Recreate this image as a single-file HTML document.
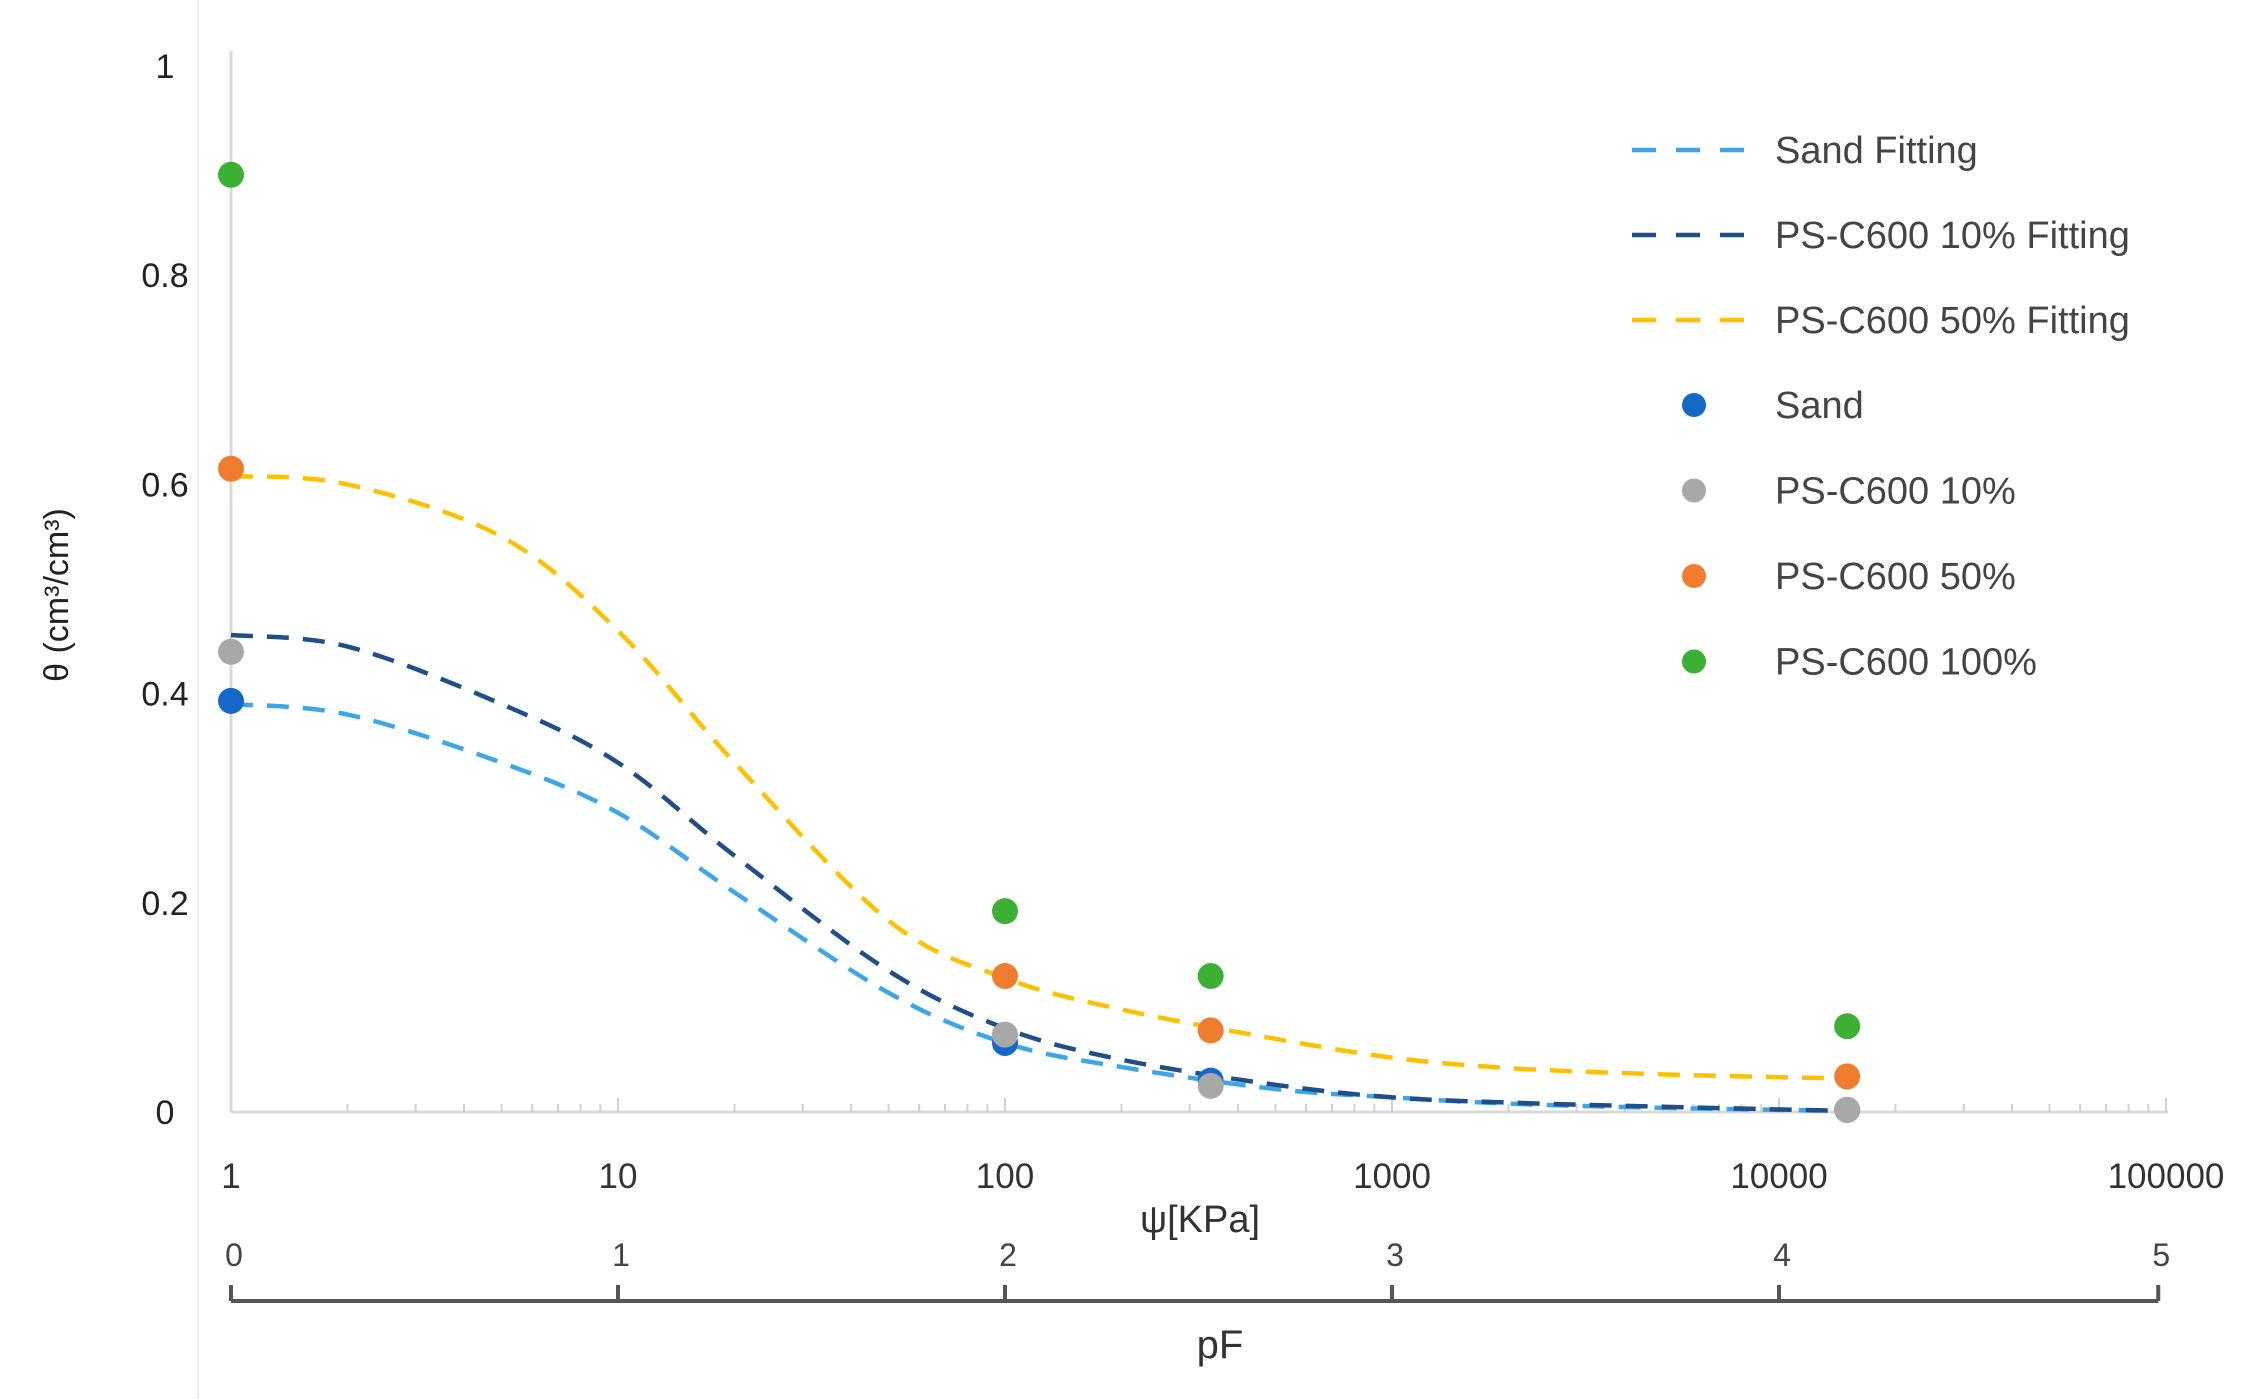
<!DOCTYPE html>
<html><head><meta charset="utf-8"><style>
html,body{margin:0;padding:0;background:#fff;}
svg{display:block;font-family:"Liberation Sans",sans-serif;}
</style></head><body>
<svg id="chart" width="2255" height="1399" viewBox="0 0 2255 1399" xmlns="http://www.w3.org/2000/svg">
<line x1="198" y1="0" x2="198" y2="1399" stroke="#f0f0f0" stroke-width="2"/>
<g id="axes"></g><g id="curves"></g><g id="points"></g>
<g id="legend"></g>
</svg>
<script>
const xTicks=[1,10,100,1000,10000,100000];
const xTickLabels=["1","10","100","1000","10000","100000"];
const yTicks=[0,0.2,0.4,0.6,0.8,1];
const yTickLabels=["0","0.2","0.4","0.6","0.8","1"];
const pfTicks=[0,1,2,3,4,5];
const pressures=[1,100,340,15000];
const sandVals=[0.393,0.066,0.03,0.002];
const ps10Vals=[0.44,0.074,0.025,0.002];
const ps50Vals=[0.615,0.13,0.078,0.034];
const ps100Vals=[0.896,0.192,0.13,0.082];
const fitX=[1,2,5,10,20,50,100,200,500,1000,2000,5000,15000];
const sandFit=[0.39,0.38,0.334,0.286,0.21,0.114,0.066,0.043,0.022,0.014,0.008,0.004,0.001];
const ps10Fit=[0.456,0.445,0.39,0.334,0.245,0.135,0.08,0.05,0.026,0.014,0.009,0.005,0.001];
const ps50Fit=[0.608,0.6,0.55,0.46,0.334,0.183,0.128,0.098,0.07,0.052,0.042,0.036,0.032];

const NS="http://www.w3.org/2000/svg";
const X0=231,DEC=387,Y0=1112,YH=1046;
const sx=v=>X0+Math.log10(v)*DEC;
const sy=v=>Y0-v*YH;
const spf=v=>X0+v*DEC;
function mk(tag,attrs,parent,text){const e=document.createElementNS(NS,tag);for(const k in attrs)e.setAttribute(k,attrs[k]);if(text!==undefined)e.textContent=text;parent.appendChild(e);return e;}
const axes=document.getElementById('axes');
let e;
e=mk('line',{x1:X0,y1:sy(1)-15,x2:X0,y2:Y0,stroke:'#d9d9d9','stroke-width':3},axes);


e=mk('line',{x1:X0,y1:Y0,x2:sx(100000)+2,y2:Y0,stroke:'#d9d9d9','stroke-width':3},axes);


for(let d=0;d<5;d++){for(let m=2;m<=10;m++){const v=Math.pow(10,d)*m;e=mk('line',{x1:sx(v),y1:Y0,x2:sx(v),y2:Y0-(m==10?14:8),stroke:'#d0d0d0','stroke-width':2},axes);

}}
yTicks.forEach((t,i)=>{e=mk('text',{x:165,y:sy(t)+12,'text-anchor':'middle','font-size':34,fill:'#222'},axes,yTickLabels[i]);

});
xTicks.forEach((t,i)=>{e=mk('text',{x:sx(t),y:1188,'text-anchor':'middle','font-size':35,fill:'#333'},axes,xTickLabels[i]);

});
e=mk('text',{x:1200,y:1232,'text-anchor':'middle','font-size':38,fill:'#333'},axes,'ψ[KPa]');


e=mk('text',{x:0,y:0,'text-anchor':'middle','font-size':34,fill:'#222',transform:'translate(68,595) rotate(-90)'},axes,'θ (cm³/cm³)');


e=mk('line',{x1:spf(0),y1:1301,x2:spf(4.98),y2:1301,stroke:'#555','stroke-width':4},axes);


pfTicks.forEach(t=>{const x=Math.min(spf(t),spf(4.98));
e=mk('line',{x1:x,y1:1285,x2:x,y2:1301,stroke:'#555','stroke-width':4},axes);


e=mk('text',{x:x+3,y:1266,'text-anchor':'middle','font-size':32,fill:'#444'},axes,String(t));

});
e=mk('text',{x:1220,y:1358,'text-anchor':'middle','font-size':40,fill:'#333'},axes,'pF');



const curves=document.getElementById('curves');
function curve(vals,color,name){
 const p=fitX.map((x,i)=>[sx(x),sy(vals[i])]);
 let d='M'+p[0][0]+','+p[0][1];
 for(let i=0;i<p.length-1;i++){const a=p[Math.max(i-1,0)],b=p[i],c=p[i+1],n=p[Math.min(i+2,p.length-1)];
  d+=' C'+(b[0]+(c[0]-a[0])/6)+','+(b[1]+(c[1]-a[1])/6)+' '+(c[0]-(n[0]-b[0])/6)+','+(c[1]-(n[1]-b[1])/6)+' '+c[0]+','+c[1];}
 const el=mk('path',{d:d,fill:'none',stroke:color,'stroke-width':4.5,'stroke-dasharray':'22 14'},curves);
 
 
}
curve(sandFit,'#3ea6e8','sand-fitting-curve');
curve(ps10Fit,'#1f4e88','ps-c600-10-fitting-curve');
curve(ps50Fit,'#ffc000','ps-c600-50-fitting-curve');

const pts=document.getElementById('points');
function series(vals,color,name){pressures.forEach((p,i)=>{const c=mk('circle',{cx:sx(p),cy:sy(vals[i]),r:13,fill:color},pts);

});}
series(sandVals,'#1469c8','sand-point');
series(ps10Vals,'#a8a8a8','ps-c600-10-point');
series(ps50Vals,'#f07c30','ps-c600-50-point');
series(ps100Vals,'#3cb035','ps-c600-100-point');

const lg=document.getElementById('legend');
[['Sand Fitting','#3ea6e8'],['PS-C600 10% Fitting','#1f4e88'],['PS-C600 50% Fitting','#ffc000']].forEach((r,i)=>{const y=150+i*85;
e=mk('line',{x1:1632,y1:y,x2:1764,y2:y,stroke:r[1],'stroke-width':4.5,'stroke-dasharray':'24 20'},lg);


e=mk('text',{x:1775,y:y+13,'font-size':38,fill:'#444'},lg,r[0]);

});
[['Sand','#1469c8'],['PS-C600 10%','#a8a8a8'],['PS-C600 50%','#f07c30'],['PS-C600 100%','#3cb035']].forEach((r,i)=>{const y=405+i*85.5;
e=mk('circle',{cx:1694,cy:y,r:12,fill:r[1]},lg);


e=mk('text',{x:1775,y:y+13,'font-size':38,fill:'#444'},lg,r[0]);

});
</script>
</body></html>
